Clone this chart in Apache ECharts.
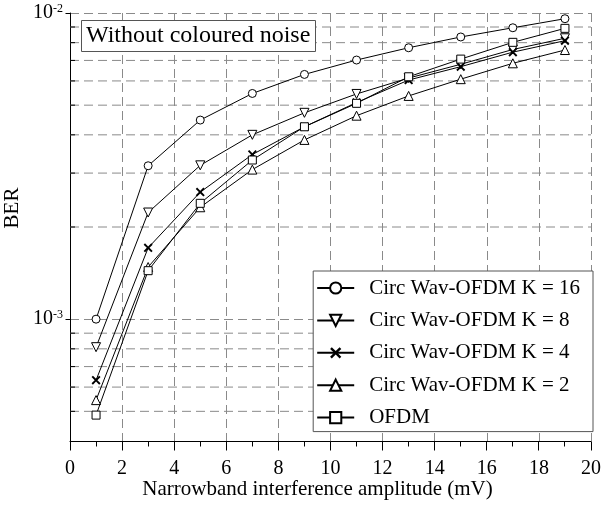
<!DOCTYPE html>
<html>
<head>
<meta charset="utf-8">
<script src="https://cdn.jsdelivr.net/npm/echarts@6/dist/echarts.min.js"></script>
<style>
  html, body { margin: 0; padding: 0; background: #fff; }
  #chart { width: 602px; height: 509px; }
</style>
</head>
<body>
<div id="chart"></div>
<script>
// 横轴：窄带干扰幅度 (mV)
const amplitude = [1, 3, 5, 7, 9, 11, 13, 15, 17, 19];

// 各曲线 BER
const berK16 = [1.00e-3, 3.17e-3, 4.47e-3, 5.46e-3, 6.30e-3, 7.02e-3, 7.70e-3, 8.35e-3, 8.95e-3, 9.58e-3];
const berK8 = [8.10e-4, 2.23e-3, 3.18e-3, 4.00e-3, 4.72e-3, 5.44e-3, 6.13e-3, 6.80e-3, 7.60e-3, 8.27e-3];
const berK4 = [6.32e-4, 1.71e-3, 2.60e-3, 3.45e-3, 4.25e-3, 5.10e-3, 6.04e-3, 6.68e-3, 7.45e-3, 8.12e-3];
const berK2 = [5.44e-4, 1.48e-3, 2.32e-3, 3.08e-3, 3.85e-3, 4.62e-3, 5.36e-3, 6.08e-3, 6.85e-3, 7.57e-3];
const berOfdm = [4.86e-4, 1.44e-3, 2.39e-3, 3.31e-3, 4.25e-3, 5.07e-3, 6.19e-3, 7.07e-3, 8.02e-3, 8.91e-3];

const seriesNames = ['Circ Wav-OFDM K = 16', 'Circ Wav-OFDM K = 8', 'Circ Wav-OFDM K = 4', 'Circ Wav-OFDM K = 2', 'OFDM'];

// 刻度
const Y_MIN = 4e-4;
const Y_MAX = 1e-2;
const yMajorTicks = [1e-3, 1e-2];
const yMinorTicks = [5e-4, 6e-4, 7e-4, 8e-4, 9e-4, 2e-3, 3e-3, 4e-3, 5e-3, 6e-3, 7e-3, 8e-3, 9e-3];
const xMajorTicks = [0, 2, 4, 6, 8, 10, 12, 14, 16, 18, 20];
const xMinorTicks = [1, 3, 5, 7, 9, 11, 13, 15, 17, 19];

const FONT = '"Liberation Serif", "DejaVu Serif", serif';
const GRID_GRAY = '#8a8a8a';
// 粗 X 标记
const CROSS = 'path://M0,1.5L1.5,0L5,3.5L8.5,0L10,1.5L6.5,5L10,8.5L8.5,10L5,6.5L1.5,10L0,8.5L3.5,5Z';

function pair(values) {
  return amplitude.map((x, i) => [x, values[i]]);
}

function lineSeries(name, values, symbol, size, rotate) {
  const solid = symbol === CROSS;
  return {
    name: name,
    type: 'line',
    data: pair(values),
    symbol: symbol,
    symbolSize: size,
    symbolRotate: rotate || 0,
    showAllSymbol: true,
    lineStyle: { color: '#000', width: 1 },
    // 空心标记：白色填充 + 1px 黑边（图例里也保持细边）
    itemStyle: solid
      ? { color: '#000', borderWidth: 0 }
      : { color: '#fff', borderColor: '#000', borderWidth: 1 },
    silent: true,
    z: 3
  };
}

function line(x1, y1, x2, y2, stroke, dash) {
  const style = { stroke: stroke, lineWidth: 1 };
  if (dash) style.lineDash = dash;
  return {
    type: 'line',
    silent: true,
    shape: { x1: x1, y1: y1, x2: x2, y2: y2 },
    style: style
  };
}

// 1px 线对齐像素
function snap(v) {
  return Math.round(v - 0.5) + 0.5;
}

const chart = echarts.init(document.getElementById('chart'), null, { renderer: 'canvas' });

const series = [
  lineSeries(seriesNames[0], berK16, 'circle', 8),
  lineSeries(seriesNames[1], berK8, 'triangle', 9, 180),
  lineSeries(seriesNames[2], berK4, CROSS, 9),
  lineSeries(seriesNames[3], berK2, 'triangle', 9),
  lineSeries(seriesNames[4], berOfdm, 'rect', 8),

  // 纵轴次网格线 + 朝内次刻度
  {
    type: 'custom',
    silent: true,
    data: yMinorTicks.map(v => [0, v]),
    renderItem: function (params, api) {
      const p = api.coord([api.value(0), api.value(1)]);
      const cs = params.coordSys;
      return {
        type: 'group',
        children: [
          line(cs.x, p[1], cs.x + cs.width, p[1], GRID_GRAY, [9, 5]),
          line(p[0], p[1], p[0] + 5, p[1], '#000')
        ]
      };
    },
    z: 1
  }
];

const option = {
  animation: false,
  backgroundColor: '#fff',
  textStyle: { fontFamily: FONT, color: '#000' },
  title: {
    text: 'Without coloured noise',
    left: 81,
    top: 20,
    padding: [3, 5, 3, 5],
    borderColor: '#555',
    borderWidth: 1,
    backgroundColor: '#fff',
    textStyle: { fontFamily: FONT, fontSize: 24, fontWeight: 'normal', color: '#000', lineHeight: 26 }
  },
  legend: {
    data: seriesNames,
    orient: 'vertical',
    right: 9,
    top: 271,
    padding: [6, 13, 3, 3],
    itemGap: 10.4,
    itemWidth: 37,
    itemHeight: 14,
    borderColor: '#555',
    borderWidth: 1,
    backgroundColor: '#fff',
    selectedMode: false,
    textStyle: { fontFamily: FONT, fontSize: 21, color: '#000', lineHeight: 22, padding: [0, 0, 0, 10] }
  },
  grid: { left: 70, right: 11, top: 13, bottom: 68, containLabel: false, outerBoundsMode: 'none' },
  xAxis: {
    type: 'value',
    min: 0,
    max: 20,
    interval: 2,
    name: 'Narrowband interference amplitude (mV)',
    nameLocation: 'middle',
    nameGap: 38,
    nameMoveOverlap: false,
    nameTextStyle: { fontFamily: FONT, fontSize: 21, color: '#000', padding: [0, 26, 0, 0] },
    axisLine: { show: true, onZero: false, lineStyle: { color: '#000', width: 1 } },
    axisTick: { show: false },
    axisLabel: { fontFamily: FONT, fontSize: 20, color: '#000', margin: 18 },
    splitLine: { show: true, lineStyle: { color: GRID_GRAY, type: [9, 5], width: 1 } }
  },
  yAxis: {
    type: 'log',
    logBase: 10,
    min: Y_MIN,
    max: Y_MAX,
    name: 'BER',
    nameLocation: 'middle',
    nameGap: 47,
    nameMoveOverlap: false,
    nameTextStyle: { fontFamily: FONT, fontSize: 21, color: '#000', padding: [0, 0, 0, 38] },
    axisLine: { show: true, onZero: false, lineStyle: { color: '#000', width: 1 } },
    axisTick: { show: false },
    axisLabel: {
      margin: 7,
      formatter: function (v) {
        const e = Math.round(Math.log10(v));
        if (Math.abs(Math.log10(v) - e) > 1e-6) return '';
        return '{b|10}{s|' + e + '}';
      },
      rich: {
        b: { fontFamily: FONT, fontSize: 20, color: '#000', lineHeight: 20, verticalAlign: 'bottom' },
        s: { fontFamily: FONT, fontSize: 12, color: '#000', lineHeight: 12, verticalAlign: 'top' }
      }
    },
    splitLine: { show: true, lineStyle: { color: GRID_GRAY, type: [9, 5], width: 1 } }
  },
  series: series
};

chart.setOption(option);

// 轴外刻度：位置由坐标轴换算
const axisBottom = snap(chart.convertToPixel({ yAxisIndex: 0 }, Y_MIN));
const axisLeft = snap(chart.convertToPixel({ xAxisIndex: 0 }, 0));
const ticks = [];
xMajorTicks.forEach(v => {
  const x = snap(chart.convertToPixel({ xAxisIndex: 0 }, v));
  ticks.push(line(x, axisBottom, x, axisBottom + 9, '#000'));
});
xMinorTicks.forEach(v => {
  const x = snap(chart.convertToPixel({ xAxisIndex: 0 }, v));
  ticks.push(line(x, axisBottom, x, axisBottom + 5, '#000'));
});
yMajorTicks.forEach(v => {
  const y = snap(chart.convertToPixel({ yAxisIndex: 0 }, v));
  ticks.push(line(axisLeft - 5, y, axisLeft, y, '#000'));
});
chart.setOption({ graphic: ticks.map(t => Object.assign(t, { z: 100 })) });
</script>
</body>
</html>
